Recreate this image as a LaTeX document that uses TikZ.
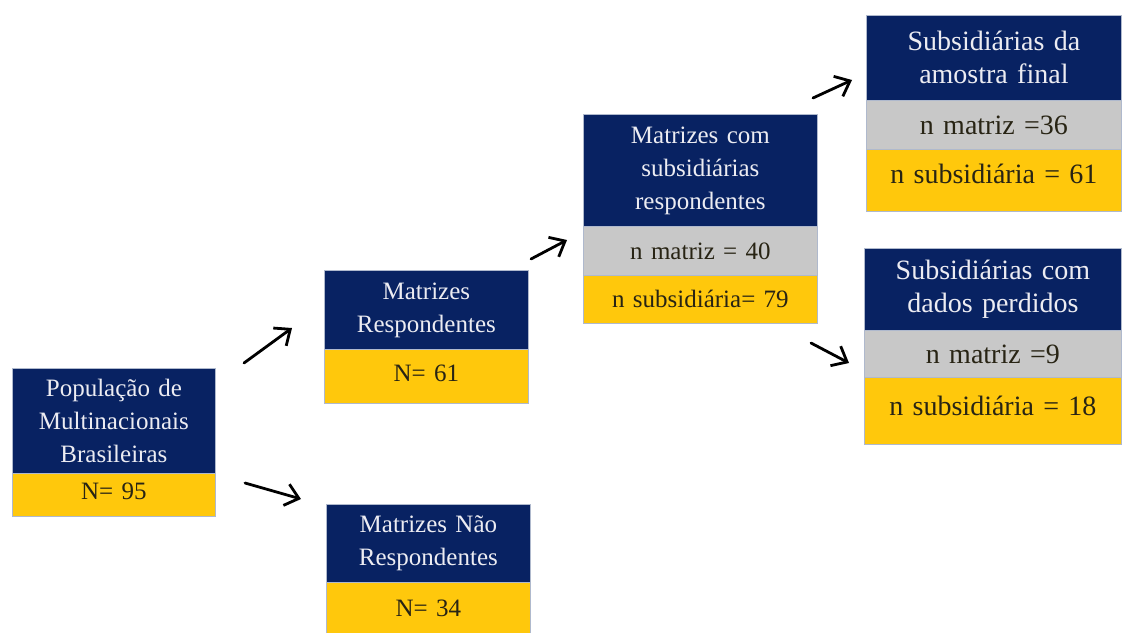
\documentclass[tikz,border=0pt]{standalone}
\usepackage{fontspec}
\setmainfont{Liberation Serif}
\usetikzlibrary{arrows.meta}
\definecolor{navy}{RGB}{8,34,98}
\definecolor{gold}{RGB}{255,200,12}
\definecolor{midgray}{RGB}{200,200,200}
\definecolor{bordercol}{RGB}{175,185,205}
\definecolor{headtext}{RGB}{236,236,242}
\definecolor{darktext}{RGB}{40,36,20}
\begin{document}
\begin{tikzpicture}[x=1pt,y=-1pt,
  part/.style={draw=bordercol, line width=0.8pt, anchor=north west, inner sep=0pt, align=center},
  small/.style={font=\fontsize{25}{33}\selectfont},
  large/.style={font=\fontsize{28}{33}\selectfont},
  head/.style={part, fill=navy, text=headtext},
  mid/.style={part, fill=midgray, text=darktext},
  foot/.style={part, fill=gold, text=darktext},
  arr/.style={-{Straight Barb[length=13pt,width=22pt]}, line width=2.8pt, line cap=round, black}
]
\useasboundingbox (0,0) rectangle (1124,632);

% Box 1
\node[head, small, minimum width=203pt, minimum height=105pt, text width=203pt] (popH) at (12,368) {População de\\Multinacionais\\Brasileiras};
\node[foot, small, minimum width=203pt, minimum height=43pt, text width=203pt] (popF) at (12,473) {\raisebox{8pt}{N= 95}};

% Box 2
\node[head, small, minimum width=204pt, minimum height=79pt, text width=204pt] (respH) at (324,270) {Matrizes\\Respondentes};
\node[foot, small, minimum width=204pt, minimum height=54pt, text width=204pt] (respF) at (324,349) {\raisebox{6pt}{N= 61}};

% Box 6
\node[head, small, minimum width=204pt, minimum height=78pt, text width=204pt] (naoH) at (326,504) {Matrizes Não\\Respondentes};
\node[foot, small, minimum width=204pt, minimum height=51pt, text width=204pt] (naoF) at (326,582) {N= 34};

% Box 3
\node[head, small, minimum width=234pt, minimum height=112pt, text width=234pt] (comH) at (583,114) {Matrizes com\\subsidiárias\\respondentes};
\node[mid, small, minimum width=234pt, minimum height=49pt, text width=234pt] (comM) at (583,226) {n matriz = 40};
\node[foot, small, minimum width=234pt, minimum height=48pt, text width=234pt] (comF) at (583,275) {n subsidiária= 79};

% Box 4
\node[head, large, minimum width=255pt, minimum height=85pt, text width=255pt] (finH) at (866,15) {Subsidiárias da\\amostra final};
\node[mid, large, minimum width=255pt, minimum height=49pt, text width=255pt] (finM) at (866,100) {n matriz =36};
\node[foot, large, minimum width=255pt, minimum height=62pt, text width=255pt] (finF) at (866,149) {\raisebox{14pt}{n subsidiária = 61}};

% Box 5
\node[head, large, minimum width=257pt, minimum height=82pt, text width=257pt] (perH) at (864,248) {Subsidiárias com\\dados perdidos};
\node[mid, large, minimum width=257pt, minimum height=47pt, text width=257pt] (perM) at (864,330) {n matriz =9};
\node[foot, large, minimum width=257pt, minimum height=67pt, text width=257pt] (perF) at (864,377) {\raisebox{10pt}{n subsidiária = 18}};

% Arrow end points
\coordinate (a1s) at (244,363); \coordinate (a1e) at (292,328);
\coordinate (a2s) at (245,483); \coordinate (a2e) at (301,499);
\coordinate (a3s) at (531,259); \coordinate (a3e) at (567,240);
\coordinate (a4s) at (813,98);  \coordinate (a4e) at (852,80);
\coordinate (a5s) at (811,343); \coordinate (a5e) at (849,363);

\draw[arr] (a1s) -- (a1e);
\draw[arr] (a2s) -- (a2e);
\draw[arr] (a3s) -- (a3e);
\draw[arr] (a4s) -- (a4e);
\draw[arr] (a5s) -- (a5e);
\end{tikzpicture}
\end{document}
